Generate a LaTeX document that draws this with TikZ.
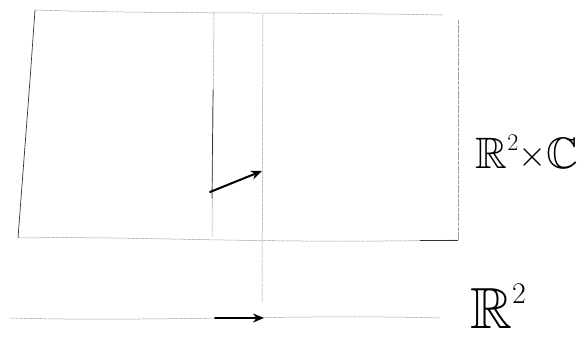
\documentclass[tikz,border=0pt]{standalone}
\usepackage{amsmath,amssymb}
\usepackage{graphicx}
\usepackage{xcolor}
\usetikzlibrary{arrows.meta,positioning}

\newcommand{\sq}[1]{\raisebox{0.42em}{\fontsize{#1}{#1}\selectfont 2}}

\begin{document}
\begin{tikzpicture}[
    x=1pt,y=-1pt,
    >={Stealth[length=11pt,width=9pt]},
    sketch/.style={draw=gray!75, line width=0.5pt, dash pattern=on 4pt off 0.7pt},
    ink/.style={draw=black!80, line width=0.7pt},
    vec/.style={->, draw=black, line width=2pt, line cap=round},
    space/.style={font=\fontsize{44}{48}\selectfont, inner sep=0pt}
]
    \useasboundingbox (0,0) rectangle (588,361);

    % corners of the total space
    \coordinate (tl) at (35,10);
    \coordinate (tr) at (443,15);
    \coordinate (rt) at (458,20);
    \coordinate (br) at (458,240);
    \coordinate (bl) at (18,238);

    \draw[sketch] (tl) .. controls (150,14) and (300,12) .. (tr);
    \draw[sketch] (rt) -- (br);
    \draw[sketch] (bl) .. controls (150,236) and (250,244) .. (br);
    \draw[ink] (tl) -- (30,80) -- (bl);
    \draw[ink] (420,240) -- (br);

    % the fibre and the one next to it
    \coordinate (fa) at (214,12);
    \coordinate (fb) at (212,236);
    \coordinate (ga) at (263,15);
    \coordinate (gb) at (262,302);
    \draw[sketch] (fa) -- (fb);
    \draw[ink] (213,90) -- (212,198);
    \draw[sketch] (ga) -- (gb);

    % base space
    \coordinate (b1) at (10,318);
    \coordinate (b2) at (440,318);
    \draw[sketch] (b1) .. controls (150,322) and (300,314) .. (b2);

    % lifted vector and its image
    \coordinate (u0) at (210,192);
    \coordinate (u1) at (262,171);
    \coordinate (d0) at (215,318);
    \coordinate (d1) at (264,318);
    \draw[vec] (u0) -- (u1);
    \draw[vec] (d0) -- (d1);

    \node[space] (total) at (527,152)
        {$\mathbb{R}$\sq{24}\raisebox{0.06em}{\scalebox{1.45}{$\times$}}$\mathbb{C}$};
    \node[space, font=\fontsize{58}{60}\selectfont] (base) at (498,306) {$\mathbb{R}$\sq{30}};
\end{tikzpicture}
\end{document}
